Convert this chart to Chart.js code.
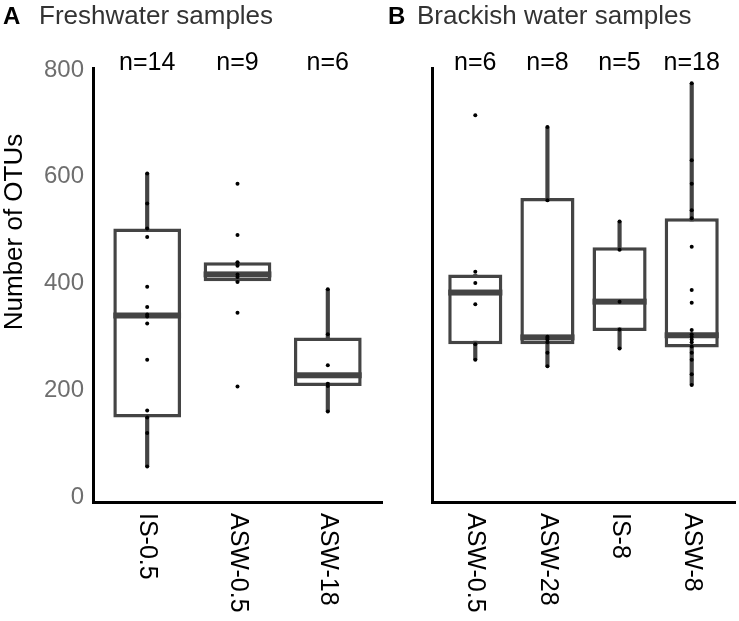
<!DOCTYPE html>
<html>
<head>
<meta charset="utf-8">
<script src="https://cdn.jsdelivr.net/npm/chart.js@4.4.1/dist/chart.umd.min.js"></script>
<style>
  html, body { margin: 0; padding: 0; background: #fff; }
  #wrap { position: relative; width: 739px; height: 621px; overflow: hidden; background: #fff; }
  canvas { position: absolute; top: 0; }
</style>
</head>
<body>
<div id="wrap">
  <canvas id="cA" width="386" height="621" style="left:0px;width:386px;height:621px"></canvas>
  <canvas id="cB" width="353" height="621" style="left:386px;width:353px;height:621px"></canvas>
</div>
<script>
// ---------- Data ----------
const yTicks = [0, 200, 400, 600, 800];

// Panel A: Freshwater samples
const catsA = ['IS-0.5', 'ASW-0.5', 'ASW-18'];
const nA    = [14, 9, 6];
const minA  = [57, 404, 160];
const q1A   = [149, 404, 208];
const medA  = [340, 417, 228];
const q3A   = [503, 440, 299];
const maxA  = [606, 440, 389];
const ptsA  = [
  [606, 550, 503, 487, 394, 356, 342, 338, 325, 257, 162, 149, 120, 57],
  [587, 491, 440, 433, 417, 412, 403, 345, 207],
  [389, 305, 247, 212, 208, 160]
];

// Panel B: Brackish water samples
const catsB = ['ASW-0.5', 'ASW-28', 'IS-8', 'ASW-8'];
const nB    = [6, 8, 5, 18];
const minB  = [257, 245, 278, 210];
const q1B   = [286, 286, 311, 280];
const medB  = [383, 299, 366, 303];
const q3B   = [417, 560, 468, 522];
const maxB  = [417, 693, 516, 775];
const ptsB  = [
  [715, 422, 401, 361, 286, 257],
  [693, 556, 300, 298, 295, 290, 270, 245],
  [516, 463, 366, 314, 278],
  [775, 631, 587, 537, 522, 469, 388, 364, 313, 305, 300, 295, 290, 282, 270, 257, 230, 210]
];

// ---------- Styling ----------
const FONT = "'Liberation Sans', Arial, Helvetica, sans-serif";
const BOXC = '#444444';

function buildChart(canvasId, cfg) {
  const { cats, ns, mins, q1s, meds, q3s, maxs, pts, letter, title, letterX, titleX,
          yLabels, yTitle, axisLeft, axisRight, canvasW } = cfg;

  const whiskers = cats.map((c, i) => ({ x: i + 1, y: [mins[i], maxs[i]] }));
  const boxes = cats.map((c, i) => ({ x: i + 1, y: [q1s[i], q3s[i]] }));
  const points = [];
  pts.forEach((arr, i) => arr.forEach(v => points.push({ x: i + 1, y: v })));

  const decor = {
    id: 'decor_' + canvasId,
    afterDatasetDraw(chart, args) {
      if (args.index !== 1) return;
      const ctx = chart.ctx;
      const ys = chart.scales.y;
      const meta = chart.getDatasetMeta(1);
      ctx.save();
      ctx.fillStyle = BOXC;
      meta.data.forEach((bar, i) => {
        const yy = ys.getPixelForValue(meds[i]);
        ctx.fillRect(bar.x - bar.width / 2, yy - 3, bar.width, 6);
      });
      ctx.restore();
    },
    afterDraw(chart) {
      const ctx = chart.ctx;
      const xs = chart.scales.x;
      ctx.save();
      ctx.textBaseline = 'alphabetic';
      ctx.textAlign = 'left';
      ctx.fillStyle = '#000';
      ctx.font = 'bold 24px ' + FONT;
      ctx.fillText(letter, letterX, 24);
      ctx.fillStyle = '#333';
      ctx.font = '26px ' + FONT;
      ctx.fillText(title, titleX, 24);
      ctx.fillStyle = '#000';
      ctx.font = '25px ' + FONT;
      ctx.textAlign = 'center';
      ns.forEach((n, i) => {
        ctx.fillText('n=' + n, xs.getPixelForValue(i + 1), 70);
      });
      ctx.font = '25px ' + FONT;
      ctx.textAlign = 'left';
      ctx.textBaseline = 'middle';
      cats.forEach((c, i) => {
        ctx.save();
        ctx.translate(xs.getPixelForValue(i + 1), 513);
        ctx.rotate(Math.PI / 2);
        ctx.fillText(c, 0, 0);
        ctx.restore();
      });
      if (yTitle) {
        ctx.save();
        ctx.translate(15, 232);
        ctx.rotate(-Math.PI / 2);
        ctx.textAlign = 'center';
        ctx.textBaseline = 'middle';
        ctx.font = '26px ' + FONT;
        ctx.fillStyle = '#000';
        ctx.fillText(yTitle, 0, 0);
        ctx.restore();
      }
      ctx.restore();
    }
  };

  return new Chart(document.getElementById(canvasId), {
    type: 'bar',
    data: {
      datasets: [
        { type: 'bar', data: whiskers, backgroundColor: BOXC, borderWidth: 0,
          barThickness: 3.5, grouped: false, order: 3 },
        { type: 'bar', data: boxes, backgroundColor: '#ffffff', borderColor: BOXC,
          borderWidth: 3.5, borderSkipped: false, grouped: false,
          barPercentage: 0.75, categoryPercentage: 1, order: 2 },
        { type: 'scatter', data: points, backgroundColor: '#000', borderWidth: 0,
          pointRadius: 2, order: 0 }
      ]
    },
    options: {
      responsive: false,
      animation: false,
      events: [],
      layout: { padding: { left: 0, top: 68, right: canvasW - axisRight, bottom: 0 } },
      plugins: { legend: { display: false }, tooltip: { enabled: false }, title: { display: false } },
      scales: {
        x: {
          type: 'linear',
          min: 0.4,
          max: cats.length + 0.6,
          offset: false,
          grid: { display: false, drawTicks: false },
          border: { display: true, color: '#000', width: 3 },
          afterBuildTicks(scale) { scale.ticks = cats.map((c, i) => ({ value: i + 1 })); },
          ticks: { display: false },
          afterFit(scale) { scale.height = 621 - 502; }
        },
        y: {
          min: -9.4,
          max: 803.7,
          grid: { display: false, drawTicks: false },
          border: { display: true, color: '#000', width: 3 },
          afterBuildTicks(scale) { scale.ticks = yTicks.map(v => ({ value: v })); },
          ticks: {
            display: yLabels,
            padding: 9,
            color: '#6e6e6e',
            font: { family: FONT, size: 24 }
          },
          afterFit(scale) { scale.width = axisLeft; }
        }
      }
    },
    plugins: [decor]
  });
}

buildChart('cA', {
  cats: catsA, ns: nA, mins: minA, q1s: q1A, meds: medA, q3s: q3A, maxs: maxA, pts: ptsA,
  letter: 'A', title: 'Freshwater samples', letterX: 3, titleX: 39,
  yLabels: true, yTitle: 'Number of OTUs', axisLeft: 93, axisRight: 384, canvasW: 386
});

buildChart('cB', {
  cats: catsB, ns: nB, mins: minB, q1s: q1B, meds: medB, q3s: q3B, maxs: maxB, pts: ptsB,
  letter: 'B', title: 'Brackish water samples', letterX: 2, titleX: 31,
  yLabels: false, yTitle: null, axisLeft: 46, axisRight: 349, canvasW: 353
});
</script>
</body>
</html>
